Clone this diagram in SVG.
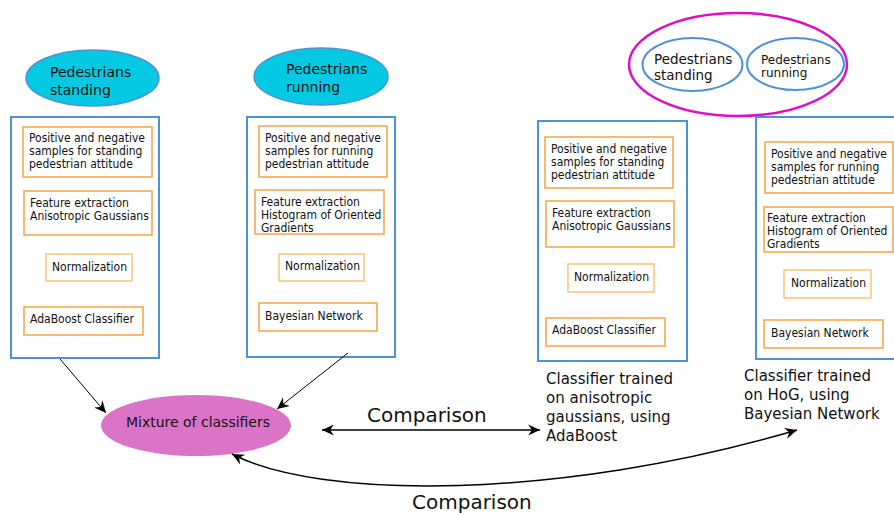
<svg xmlns="http://www.w3.org/2000/svg" width="894" height="515" viewBox="0 0 894 515">
<style>
.bg{fill:#fff}
.col{fill:#fff;stroke:#4d92d9;stroke-width:2}
.st{fill:#fff;stroke:#f5aa4c;stroke-width:1.6}
.stl{fill:#fff;stroke:#fac77f;stroke-width:1.6}
.cy{fill:#05c8e2;stroke:#4d92d9;stroke-width:1.5}
.in{fill:#fff;stroke:#4d92d9;stroke-width:2}
.mg{fill:none;stroke:#e00ec8;stroke-width:2.5}
.mix{fill:#db74c7}
.s{font-family:"DejaVu Sans Condensed","DejaVu Sans",sans-serif;font-size:12px;fill:#111}
.t{font-family:"DejaVu Sans",sans-serif;font-size:14px;fill:#111}
.b{font-family:"DejaVu Sans",sans-serif;font-size:15px;fill:#111}
.c{font-family:"DejaVu Sans",sans-serif;font-size:20px;fill:#111}
.ln{fill:none;stroke:#000;stroke-width:1}
.ln2{fill:none;stroke:#000;stroke-width:1.5}
</style>
<defs>
<marker id="ah" viewBox="-13 -6 14 12" refX="0" refY="0" markerWidth="14" markerHeight="12" orient="auto-start-reverse" markerUnits="userSpaceOnUse">
<path d="M0,0 L-12,-5.5 L-8,0 L-12,5.5 z" fill="#000"/>
</marker>
</defs>
<rect class="bg" x="0" y="0" width="894" height="515"/>

<g id="ell-standing">
<ellipse class="cy" cx="92.5" cy="78" rx="66.5" ry="28"/>
<text class="t" x="50" y="77">Pedestrians</text>
<text class="t" x="50" y="95">standing</text>
</g>
<g id="ell-running">
<ellipse class="cy" cx="321" cy="76.5" rx="67" ry="28.5"/>
<text class="t" x="286" y="74">Pedestrians</text>
<text class="t" x="286" y="92">running</text>
</g>

<g id="col-standing">
<rect class="col" x="11" y="117" width="148" height="241"/>
<rect class="st" x="23" y="127" width="129" height="50"/>
<text class="s" x="29" y="142">Positive and negative</text>
<text class="s" x="29" y="155">samples for standing</text>
<text class="s" x="29" y="168">pedestrian attitude</text>
<rect class="st" x="24" y="191" width="128" height="44"/>
<text class="s" x="30" y="207">Feature extraction</text>
<text class="s" x="30" y="220">Anisotropic Gaussians</text>
<rect class="stl" x="46" y="254" width="86" height="27"/>
<text class="s" x="52" y="271">Normalization</text>
<rect class="st" x="24" y="307" width="119" height="28"/>
<text class="s" x="30" y="323">AdaBoost Classifier</text>
</g>

<g id="col-running">
<rect class="col" x="247" y="117" width="148" height="240"/>
<rect class="st" x="259" y="126" width="128" height="51"/>
<text class="s" x="265" y="142">Positive and negative</text>
<text class="s" x="265" y="155">samples for running</text>
<text class="s" x="265" y="168">pedestrian attitude</text>
<rect class="st" x="255" y="190" width="129" height="44"/>
<text class="s" x="261" y="206">Feature extraction</text>
<text class="s" x="261" y="219">Histogram of Oriented</text>
<text class="s" x="261" y="232">Gradients</text>
<rect class="stl" x="279" y="254" width="85" height="27"/>
<text class="s" x="285" y="270">Normalization</text>
<rect class="st" x="259" y="303" width="118" height="28"/>
<text class="s" x="265" y="320">Bayesian Network</text>
</g>

<g id="group-both">
<ellipse class="mg" cx="738" cy="64.5" rx="109" ry="51.5"/>
<ellipse class="in" cx="692.5" cy="64.5" rx="50" ry="26.5"/>
<text class="t" x="654" y="64" style="font-size:13.5px">Pedestrians</text>
<text class="t" x="654" y="80" style="font-size:13.5px">standing</text>
<ellipse class="in" cx="795.5" cy="64" rx="48.5" ry="26"/>
<text class="t" x="761" y="64" style="font-size:12px">Pedestrians</text>
<text class="t" x="761" y="77" style="font-size:12px">running</text>
</g>

<g id="col-ada">
<rect class="col" x="538" y="121" width="149" height="240"/>
<rect class="st" x="545" y="137" width="128" height="51"/>
<text class="s" x="551" y="153">Positive and negative</text>
<text class="s" x="551" y="166">samples for standing</text>
<text class="s" x="551" y="179">pedestrian attitude</text>
<rect class="st" x="546" y="201" width="128" height="46"/>
<text class="s" x="552" y="217">Feature extraction</text>
<text class="s" x="552" y="230">Anisotropic Gaussians</text>
<rect class="stl" x="568" y="264" width="86" height="28"/>
<text class="s" x="574" y="281">Normalization</text>
<rect class="st" x="546" y="318" width="119" height="28"/>
<text class="s" x="552" y="334">AdaBoost Classifier</text>
</g>

<g id="col-hog">
<rect class="col" x="756" y="117" width="150" height="242"/>
<rect class="st" x="765" y="142" width="128" height="51"/>
<text class="s" x="771" y="158">Positive and negative</text>
<text class="s" x="771" y="171">samples for running</text>
<text class="s" x="771" y="184">pedestrian attitude</text>
<rect class="st" x="764" y="207" width="129" height="45"/>
<text class="s" x="767" y="222">Feature extraction</text>
<text class="s" x="767" y="235">Histogram of Oriented</text>
<text class="s" x="767" y="248">Gradients</text>
<rect class="stl" x="784" y="270" width="87" height="28"/>
<text class="s" x="791" y="287">Normalization</text>
<rect class="st" x="764" y="320" width="119" height="28"/>
<text class="s" x="771" y="337">Bayesian Network</text>
</g>

<g id="mixture">
<ellipse class="mix" cx="196" cy="425.5" rx="95" ry="30.5"/>
<text class="t" x="126" y="427" textLength="144" lengthAdjust="spacingAndGlyphs">Mixture of classifiers</text>
</g>

<g id="label-ada">
<text class="b" x="546" y="384">Classifier trained</text>
<text class="b" x="546" y="403">on anisotropic</text>
<text class="b" x="546" y="422">gaussians, using</text>
<text class="b" x="546" y="441">AdaBoost</text>
</g>
<g id="label-hog">
<text class="b" x="744" y="381">Classifier trained</text>
<text class="b" x="744" y="400">on HoG, using</text>
<text class="b" x="744" y="419">Bayesian Network</text>
</g>

<g id="connectors">
<line class="ln" x1="60" y1="359" x2="106" y2="413" marker-end="url(#ah)"/>
<line class="ln" x1="348" y1="353" x2="277" y2="409" marker-end="url(#ah)"/>
<line class="ln2" x1="322" y1="430" x2="540" y2="430" marker-start="url(#ah)" marker-end="url(#ah)"/>
<path class="ln2" d="M232,454 C320,500 560,500 797,430" marker-start="url(#ah)" marker-end="url(#ah)"/>
<text class="c" x="367" y="422">Comparison</text>
<text class="c" x="412" y="509">Comparison</text>
</g>
</svg>
